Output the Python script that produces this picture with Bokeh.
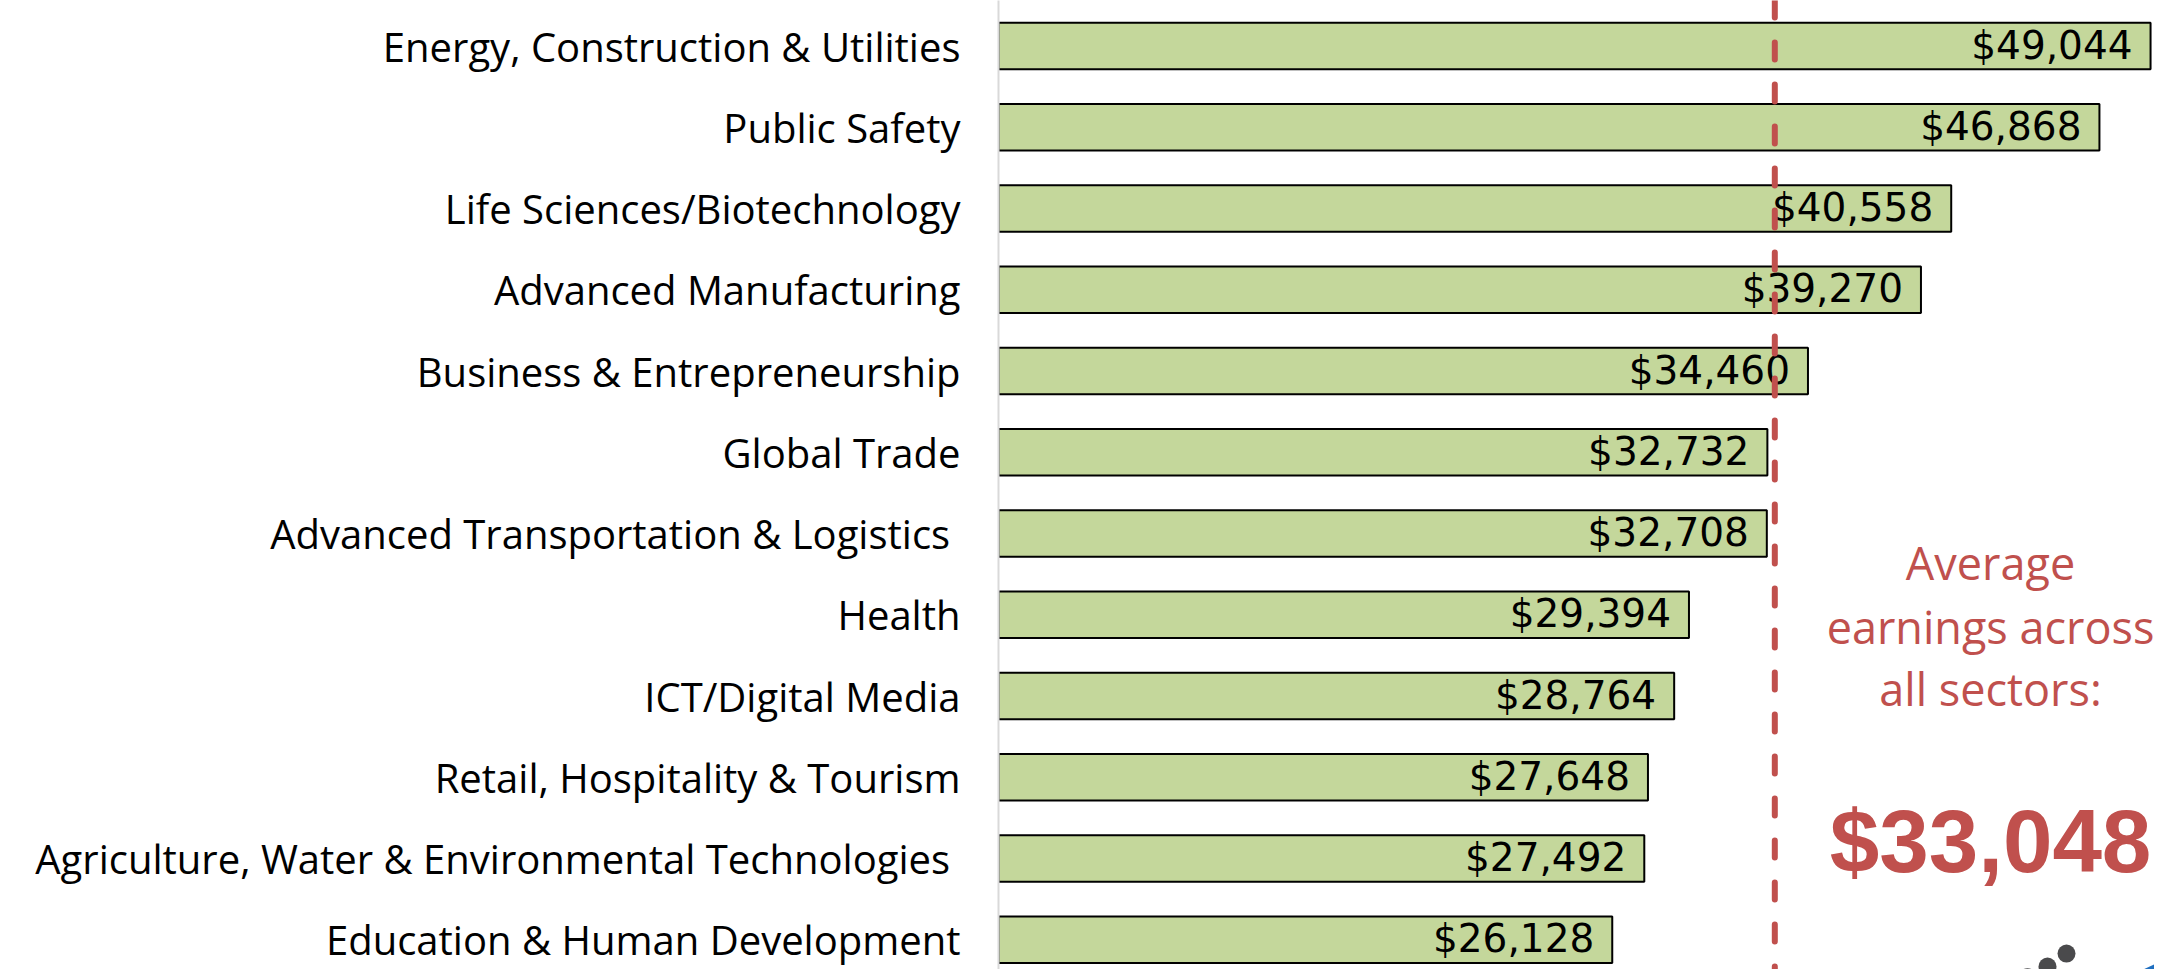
from bokeh.plotting import figure
from bokeh.models import ColumnDataSource, Range1d, FixedTicker, Span, Label
from bokeh.core.properties import value
from bokeh.embed import file_html
from bokeh.resources import INLINE

categories = [
    "Energy, Construction & Utilities",
    "Public Safety",
    "Life Sciences/Biotechnology",
    "Advanced Manufacturing",
    "Business & Entrepreneurship",
    "Global Trade",
    "Advanced Transportation & Logistics ",
    "Health",
    "ICT/Digital Media",
    "Retail, Hospitality & Tourism",
    "Agriculture, Water & Environmental Technologies ",
    "Education & Human Development",
]
earnings = [49044, 46868, 40558, 39270, 34460, 32732, 32708, 29394, 28764, 27648, 27492, 26128]
average_earnings = 33048
average_lines = ["Average", "earnings across", "all sectors:"]

positions = list(range(len(categories)))
labels = [f"${v:,}" for v in earnings]

source = ColumnDataSource(dict(y=positions, right=earnings, label=labels))

W, H = 2154, 969
p = figure(width=W, height=H, output_backend="svg", toolbar_location=None,
           x_range=Range1d(0, 49212), y_range=Range1d(11.366, -0.56),
           min_border_left=998, min_border_right=0, min_border_top=0, min_border_bottom=0)
p.outline_line_color = None
p.xgrid.visible = False
p.ygrid.visible = False
p.xaxis.visible = False
p.background_fill_color = "white"
p.border_fill_color = "white"

p.hbar(y="y", left=0, right="right", height=0.575, source=source,
       fill_color="#c4d79b", line_color="black", line_width=2)

p.text(x="right", y="y", text="label", source=source,
       text_align="right", text_baseline="middle", x_offset=-18, y_offset=-1,
       text_font=value("DejaVu Sans"), text_font_size="39px", text_color="black")

yax = p.yaxis[0]
yax.ticker = FixedTicker(ticks=positions)
yax.major_label_overrides = {i: c for i, c in zip(positions, categories)}
yax.major_label_text_font = "Open Sans"
yax.major_label_text_font_size = "40px"
yax.major_label_text_color = "black"
yax.major_label_standoff = 32
yax.major_tick_line_color = None
yax.minor_tick_line_color = None
yax.axis_line_color = "#d9d9d9"
yax.axis_line_width = 2

avg_span = Span(location=average_earnings, dimension="height", line_color="#c0504d",
                line_width=6, line_dash="17 25", line_cap="round")
p.add_layout(avg_span)

red = "#c0504d"
for txt, yv in zip(average_lines, [6.36, 7.14, 7.91]):
    p.add_layout(Label(x=42231, y=yv, text=txt, text_align="center", text_baseline="middle",
                       text_font="Open Sans", text_font_size="45px", text_color=red))
p.add_layout(Label(x=42231, y=9.78, text=f"${average_earnings:,}", text_align="center",
                   text_baseline="middle", text_font="Liberation Sans", text_font_style="bold",
                   text_font_size="89px", text_color=red))

# partial logo in the bottom-right corner
p.scatter(x=[45466, 44657, 43806], y=[11.17, 11.33, 11.46], size=18,
          fill_color="#4a4a4c", line_color=None)
p.patch(x=[47978, 49212, 49212], y=[11.47, 11.30, 11.47], fill_color="#1f6fc0", line_color=None)

open("out.html", "w").write(file_html(p, INLINE))
